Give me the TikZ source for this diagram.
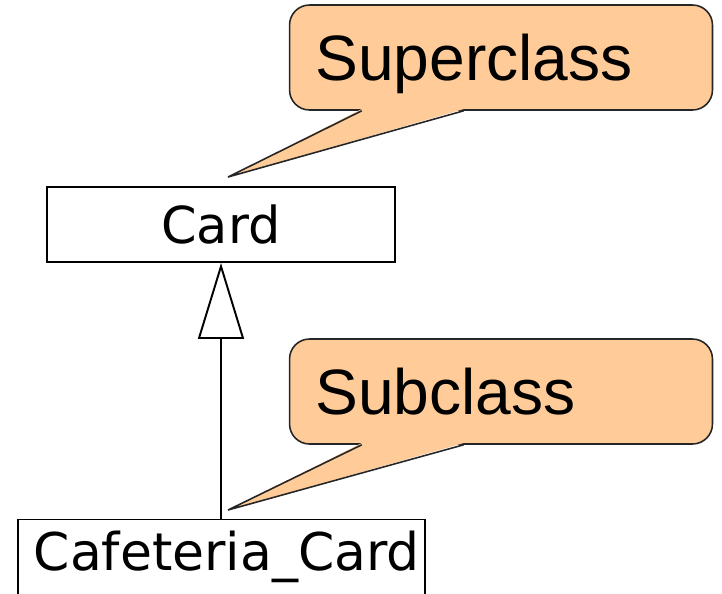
\documentclass[tikz,border=0pt]{standalone}
\usepackage{fontspec}
\setmainfont{Liberation Sans}
\newfontfamily\umlfont{DejaVu Sans}
\definecolor{notefill}{RGB}{255,204,153}
\usetikzlibrary{arrows.meta}
\tikzstyle{cls}=[draw, line width=1.1pt, minimum height=1.5cm, inner sep=0pt,
font=\umlfont\fontsize{29}{29}\selectfont]
\tikzstyle{note}=[draw=black!85, fill=notefill, line width=0.9pt,
rounded corners=0.4cm, minimum height=2.1cm, inner xsep=0.52cm,
text width=7.42cm, text depth=0pt, align=left,
font=\fontsize{36.5}{37}\selectfont]
\tikzstyle{inherit}=[line width=0.9pt,
-{Triangle[open, length=1.52cm, width=0.92cm, line width=1.1pt]}]

\begin{document}
\begin{tikzpicture}[x=0.02cm, y=-0.02cm]
  \useasboundingbox (0,0) rectangle (722,593);

  \node[cls, minimum width=6.96cm] (card) at (221,224.5) {Card};
  \node[cls, inner xsep=0.1cm, text width=7.94cm, align=right,
    font=\umlfont\fontsize{29.6}{30}\selectfont] (cafe) at (221.5,557)
    {Cafeteria\_Card};

  \draw[inherit] (cafe.north -| card.south) -- (card.south);

  \node[note] (sup) at (501,57.5) {Superclass};
  \node[note] (sub) at (501,391.5) {Subclass};
  \coordinate (suptip) at (228,177);
  \coordinate (subtip) at (228,510);

  % beaks of the two notes
  \foreach \n in {sup,sub} {
    \fill[notefill] ([xshift=1.46cm, yshift=1pt]\n.south west) -- (\n tip)
      -- ([xshift=3.5cm, yshift=1pt]\n.south west) -- cycle;
    \draw[line width=0.9pt, draw=black!85] ([xshift=1.46cm]\n.south west)
      -- (\n tip) -- ([xshift=3.5cm]\n.south west);
  }
\end{tikzpicture}
\end{document}
